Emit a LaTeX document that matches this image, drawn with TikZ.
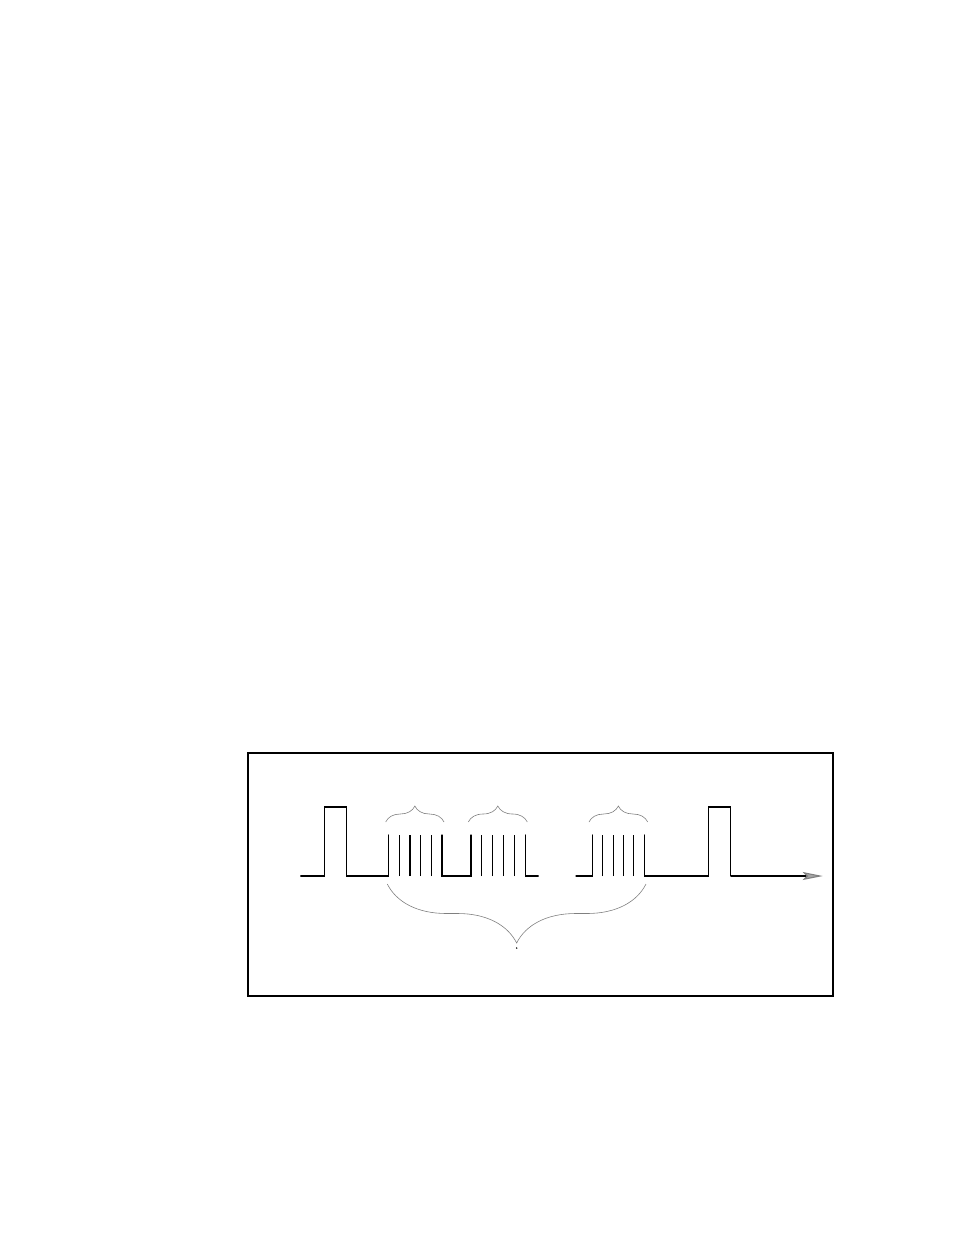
\documentclass[tikz,border=0pt]{standalone}
\usepackage{tikz}
\usepackage{tkz-euclide}
\usetikzlibrary{calc,decorations.pathreplacing}
\usetikzlibrary{arrows.meta}

\begin{document}
\begin{tikzpicture}[x=1pt,y=-1pt]
            \useasboundingbox (0,0) rectangle (954,1235);
            \draw[line width=1.8pt] (248.3,752.7) rectangle (833.3,995.7);
            % first pulse
            \tkzDefPoint(300.7,876){S}
            \tkzDefPoint(324.5,876){Pa}
            \tkzDefPoint(324.5,807){Pb}
            \tkzDefPoint(346.7,807){Pc}
            \tkzDefPoint(346.7,876){Pd}
            \tkzDefPoint(388.7,876){Ta}
            \tkzDefPoint(388.7,835){Tb}
            \tkzDrawPolySeg[line width=1.1pt](S,Pa,Pb,Pc,Pd,Ta,Tb)
            % first train
            \foreach \x in {399.4,410.0,420.7,431.3}
              \draw[line width=1.1pt] (\x,876) -- (\x,835);
            \tkzDefPoint(442,835){Ua}
            \tkzDefPoint(442,876){Ub}
            \tkzDefPoint(471,876){Uc}
            \tkzDefPoint(471,835){Ud}
            \tkzDrawPolySeg[line width=1.1pt](Ua,Ub,Uc,Ud)
            % second train
            \foreach \x in {481.9,492.7,503.6,514.4}
              \draw[line width=1.1pt] (\x,876) -- (\x,835);
            \tkzDefPoint(525.3,835){Va}
            \tkzDefPoint(525.3,876){Vb}
            \tkzDefPoint(538.3,876){Vc}
            \tkzDrawPolySeg[line width=1.1pt](Va,Vb,Vc)
            % third train
            \tkzDefPoint(576,876){Wa}
            \tkzDefPoint(592.3,876){Wb}
            \tkzDefPoint(592.3,835){Wc}
            \tkzDrawPolySeg[line width=1.1pt](Wa,Wb,Wc)
            \foreach \x in {602.7,613.1,623.5,633.9}
              \draw[line width=1.1pt] (\x,876) -- (\x,835);
            % second pulse and time axis
            \tkzDefPoint(644.3,835){Xa}
            \tkzDefPoint(644.3,876){Xb}
            \tkzDefPoint(708.3,876){Qa}
            \tkzDefPoint(708.3,807){Qb}
            \tkzDefPoint(730.7,807){Qc}
            \tkzDefPoint(730.7,876){Qd}
            \tkzDefPoint(822.7,876){E}
            \tkzDrawPolySeg[line width=1.1pt](Xa,Xb,Qa,Qb,Qc,Qd)
            \draw[line width=1.1pt,-{Stealth[length=20pt,width=8pt,inset=4pt,fill=gray!70,color=gray]}] (Qd) -- (E);
            % braces
            \draw[gray,line width=0.6pt,decorate,decoration={brace,amplitude=16pt}] (385.7,822) -- (444,822);
            \draw[gray,line width=0.6pt,decorate,decoration={brace,amplitude=16pt}] (468.3,822) -- (527.3,822);
            \draw[gray,line width=0.6pt,decorate,decoration={brace,amplitude=16pt}] (589,822) -- (647.7,822);
            \draw[gray,line width=0.6pt,decorate,decoration={brace,amplitude=59pt}] (646,884) -- (387.3,884);
            \fill (516.7,948) circle (0.8pt);
            \end{tikzpicture}
\end{document}
